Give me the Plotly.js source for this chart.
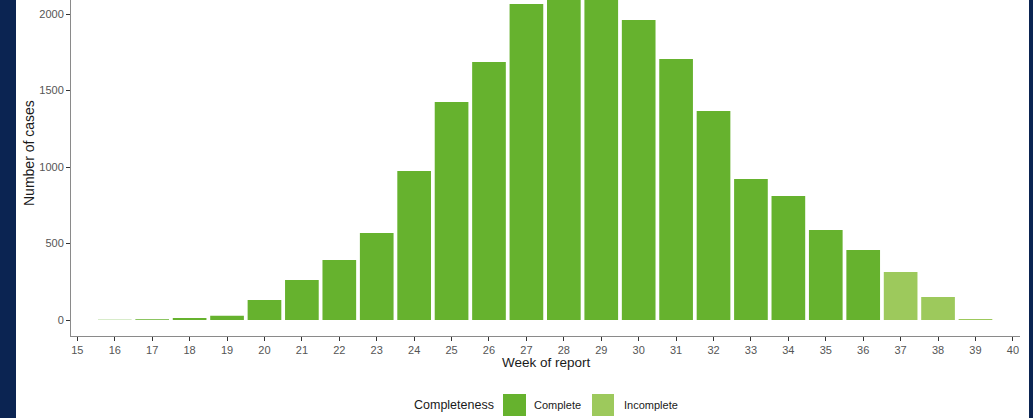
<!DOCTYPE html>
<html>
<head>
<meta charset="utf-8">
<script src="https://cdn.plot.ly/plotly-3.0.1.min.js"></script>
<style>
  html, body { margin: 0; padding: 0; width: 1033px; height: 418px; background: #0b2452; overflow: hidden; }
  #chart { position: absolute; left: 16px; top: 0; width: 1013px; height: 418px; background: #ffffff; }
</style>
</head>
<body>
<div id="chart"></div>
<script>
// Week of report and number of cases
const weeksComplete = [16, 17, 18, 19, 20, 21, 22, 23, 24, 25, 26, 27, 28, 29, 30, 31, 32, 33, 34, 35, 36];
const casesComplete = [2, 5, 13, 27, 131, 261, 392, 569, 974, 1425, 1686, 2065, 2160, 2150, 1961, 1706, 1366, 922, 810, 588, 458];
const weeksIncomplete = [37, 38, 39];
const casesIncomplete = [314, 150, 6];
const xTicks = [15,16,17,18,19,20,21,22,23,24,25,26,27,28,29,30,31,32,33,34,35,36,37,38,39,40];
const yTicks = [0, 500, 1000, 1500, 2000];
const legendTitle = "Completeness";
const seriesNames = ["Complete", "Incomplete"];

const colComplete = "#66b22e";
const colIncomplete = "#9dc95c";

const traces = [
  { type: "bar", x: weeksComplete, y: casesComplete, name: seriesNames[0], width: 0.9,
    marker: { color: colComplete, line: { width: 0 } }, showlegend: false, hoverinfo: "x+y" },
  { type: "bar", x: weeksIncomplete, y: casesIncomplete, name: seriesNames[1], width: 0.9,
    marker: { color: colIncomplete, line: { width: 0 } }, showlegend: false, hoverinfo: "x+y" }
];

const F = "Liberation Sans, Arial, Helvetica, sans-serif";
const H = 336; // plot height px
function py(pageY) { return (H - pageY) / H; }
const W = 949;
function px(pageX) { return (pageX - 16 - 55) / W; }

const layout = {
  width: 1013, height: 418,
  margin: { l: 55, r: 9, t: 0, b: 82, pad: 0 },
  paper_bgcolor: "#ffffff", plot_bgcolor: "#ffffff",
  barmode: "overlay",
  font: { family: F, color: "#4d4d4d", size: 11 },
  xaxis: {
    range: [14.83, 40.19], tickvals: xTicks, ticktext: xTicks.map(String),
    showgrid: false, zeroline: false, showline: true, linecolor: "#8a8a8a", linewidth: 1,
    ticks: "outside", ticklen: 4, tickcolor: "#333333", tickwidth: 1,
    tickfont: { family: F, size: 11, color: "#555555" }
  },
  yaxis: {
    range: [-104.6, 2091.5], tickvals: yTicks, ticktext: yTicks.map(String),
    showgrid: false, zeroline: false, showline: true, linecolor: "#8a8a8a", linewidth: 1,
    ticks: "outside", ticklen: 4, tickcolor: "#333333", tickwidth: 1,
    tickfont: { family: F, size: 11, color: "#555555" }
  },
  shapes: [
    { type: "rect", xref: "paper", yref: "paper", x0: px(503), x1: px(526), y0: py(416), y1: py(394),
      fillcolor: colComplete, line: { width: 0 } },
    { type: "rect", xref: "paper", yref: "paper", x0: px(592), x1: px(614), y0: py(416), y1: py(394),
      fillcolor: colIncomplete, line: { width: 0 } }
  ],
  annotations: [
    { text: "Week of report", xref: "paper", yref: "paper", x: px(546), y: py(362),
      xanchor: "center", yanchor: "middle", showarrow: false, font: { family: F, size: 13.5, color: "#1a1a1a" } },
    { text: "Number of cases", xref: "paper", yref: "paper", x: px(29), y: py(153), textangle: -90,
      xanchor: "center", yanchor: "middle", showarrow: false, font: { family: F, size: 14, color: "#1a1a1a" } },
    { text: legendTitle, xref: "paper", yref: "paper", x: px(412), y: py(405),
      xanchor: "left", yanchor: "middle", showarrow: false, font: { family: F, size: 12.5, color: "#1a1a1a" } },
    { text: seriesNames[0], xref: "paper", yref: "paper", x: px(532), y: py(405),
      xanchor: "left", yanchor: "middle", showarrow: false, font: { family: F, size: 11, color: "#1a1a1a" } },
    { text: seriesNames[1], xref: "paper", yref: "paper", x: px(622), y: py(405),
      xanchor: "left", yanchor: "middle", showarrow: false, font: { family: F, size: 11, color: "#1a1a1a" } }
  ]
};

Plotly.newPlot("chart", traces, layout, { displayModeBar: false, staticPlot: true });
</script>
</body>
</html>
